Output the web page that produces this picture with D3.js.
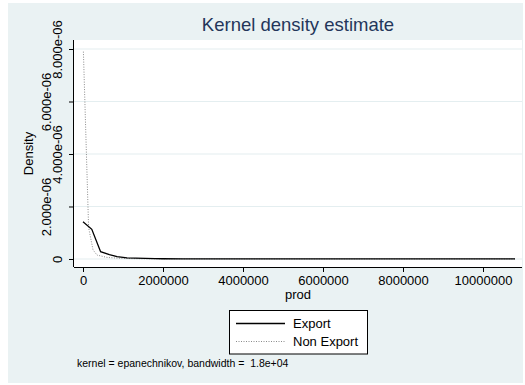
<!DOCTYPE html>
<html>
<head>
<meta charset="utf-8">
<script src="https://cdn.jsdelivr.net/npm/d3@7"></script>
<style>
  body { margin: 0; background: #fff; }
  svg { display: block; font-family: "Liberation Sans", Arial, sans-serif; }
</style>
</head>
<body>
<div id="chart-area"></div>
<script>
// kernel density values
const exportX = [0, 220000, 440000, 660000, 850000, 1100000, 1320000, 1550000, 1800000, 2000000,
  2500000, 3000000, 4000000, 5000000, 6000000, 7000000, 8000000, 9000000, 10000000, 10800000];
const exportY = [1.42e-6, 1.13e-6, 0.28e-6, 0.17e-6, 0.09e-6, 0.045e-6, 0.03e-6, 0.02e-6, 0.014e-6, 0.01e-6,
  0.006e-6, 0.004e-6, 0.003e-6, 0.002e-6, 0.002e-6, 0.001e-6, 0.001e-6, 0.001e-6, 0.001e-6, 0.001e-6];

const nonExportX = [10000, 140000, 250000, 350000, 600000, 900000, 1200000, 1600000, 2000000,
  3000000, 4000000, 5000000, 6000000, 7000000, 8000000, 9000000, 10000000, 10800000];
const nonExportY = [7.9e-6, 1.2e-6, 0.35e-6, 0.15e-6, 0.06e-6, 0.03e-6, 0.015e-6, 0.008e-6, 0.005e-6,
  0.003e-6, 0.002e-6, 0.001e-6, 0.001e-6, 0.001e-6, 0.001e-6, 0.001e-6, 0.001e-6, 0.001e-6];

const xTicks = [0, 2000000, 4000000, 6000000, 8000000, 10000000];
const yTicks = [0, 2e-6, 4e-6, 6e-6, 8e-6];
const yTickLabels = ["0", "2.000e-06", "4.000e-06", "6.000e-06", "8.000e-06"];

const plot = { left: 74, right: 522, top: 40, bottom: 267 };

const svg = d3
  .select("#chart-area")
  .append("svg")
  .attr("width", 525)
  .attr("height", 385);

// outer background
svg.append("rect")
  .attr("x", 8).attr("y", 3)
  .attr("width", 515).attr("height", 380)
  .attr("fill", "#eaf2f3");

// plot region
svg.append("rect")
  .attr("x", plot.left).attr("y", plot.top)
  .attr("width", plot.right - plot.left).attr("height", plot.bottom - plot.top)
  .attr("fill", "#fff");

// Scales
const xScale = d3.scaleLinear().domain([-225000, 10975000]).range([plot.left, plot.right]);
const yScale = d3.scaleLinear().domain([-0.305e-6, 8.343e-6]).range([plot.bottom, plot.top]);

// gridlines
svg.append("g")
  .selectAll("line")
  .data(yTicks)
  .enter()
  .append("line")
  .attr("x1", plot.left).attr("x2", plot.right)
  .attr("y1", d => yScale(d)).attr("y2", d => yScale(d))
  .attr("stroke", "#e4eef0")
  .attr("stroke-width", 1.2);

// curves
const line = d3.line().x(d => xScale(d[0])).y(d => yScale(d[1]));

svg.append("path")
  .datum(nonExportX.map((x, i) => [x, nonExportY[i]]))
  .attr("fill", "none")
  .attr("stroke", "#8a8a8a")
  .attr("stroke-width", 1)
  .attr("stroke-dasharray", "1 1.5")
  .attr("d", line);

svg.append("path")
  .datum(exportX.map((x, i) => [x, exportY[i]]))
  .attr("fill", "none")
  .attr("stroke", "#000")
  .attr("stroke-width", 1.3)
  .attr("d", line);

// X axis
const xAxisGroup = svg.append("g")
  .attr("transform", `translate(0,${plot.bottom})`)
  .call(d3.axisBottom(xScale).tickValues(xTicks).tickFormat(d3.format("d")).tickSize(5).tickPadding(4).tickSizeOuter(0));
xAxisGroup.select(".domain").attr("d", `M${plot.left},0.5H${plot.right}`);
xAxisGroup.selectAll("text").attr("font-size", "13px").attr("fill", "#000").attr("font-family", null);

// Y axis (labels alternate between two columns, like Stata does)
const yAxisGroup = svg.append("g")
  .attr("transform", `translate(${plot.left},0)`)
  .call(d3.axisLeft(yScale).tickValues(yTicks).tickFormat((d, i) => yTickLabels[i]).tickSize(5).tickSizeOuter(0));
yAxisGroup.select(".domain").attr("d", `M-0.5,${plot.top}V${plot.bottom}`);
yAxisGroup.selectAll("text")
  .attr("transform", "rotate(-90)")
  .attr("x", 0)
  .attr("y", (d, i) => (i % 2 === 0 ? -12.5 : -23.5))
  .attr("dy", null)
  .attr("text-anchor", "middle")
  .attr("font-size", "13px")
  .attr("fill", "#000")
  .attr("font-family", null);

// Title
svg.append("text")
  .attr("x", 298)
  .attr("y", 31)
  .attr("text-anchor", "middle")
  .attr("font-size", "18.5px")
  .attr("fill", "#24365a")
  .text("Kernel density estimate");

// X Label
svg.append("text")
  .attr("x", 298)
  .attr("y", 299)
  .attr("text-anchor", "middle")
  .attr("font-size", "13px")
  .text("prod");

// Y Label
svg.append("text")
  .attr("transform", "rotate(-90)")
  .attr("x", -153.5)
  .attr("y", 33)
  .attr("text-anchor", "middle")
  .attr("font-size", "13px")
  .text("Density");

// Legend
const legend = svg.append("g");
legend.append("rect")
  .attr("x", 229.5).attr("y", 310.5)
  .attr("width", 138).attr("height", 43.5)
  .attr("fill", "#fff")
  .attr("stroke", "#000");
const entries = [
  { name: "Export", stroke: "#000", dash: null, width: 1.3 },
  { name: "Non Export", stroke: "#8a8a8a", dash: "1 1.5", width: 1 }
];
entries.forEach((e, i) => {
  const y = 323.5 + i * 18;
  legend.append("line")
    .attr("x1", 236).attr("x2", 285)
    .attr("y1", y).attr("y2", y)
    .attr("stroke", e.stroke)
    .attr("stroke-width", e.width)
    .attr("stroke-dasharray", e.dash);
  legend.append("text")
    .attr("x", 293)
    .attr("y", y + 4.5)
    .attr("font-size", "13px")
    .text(e.name);
});

// note
svg.append("text")
  .attr("x", 77)
  .attr("y", 367)
  .attr("font-size", "10.5px")
  .attr("xml:space", "preserve")
  .style("white-space", "pre")
  .text("kernel = epanechnikov, bandwidth =  1.8e+04");
</script>
</body>
</html>
